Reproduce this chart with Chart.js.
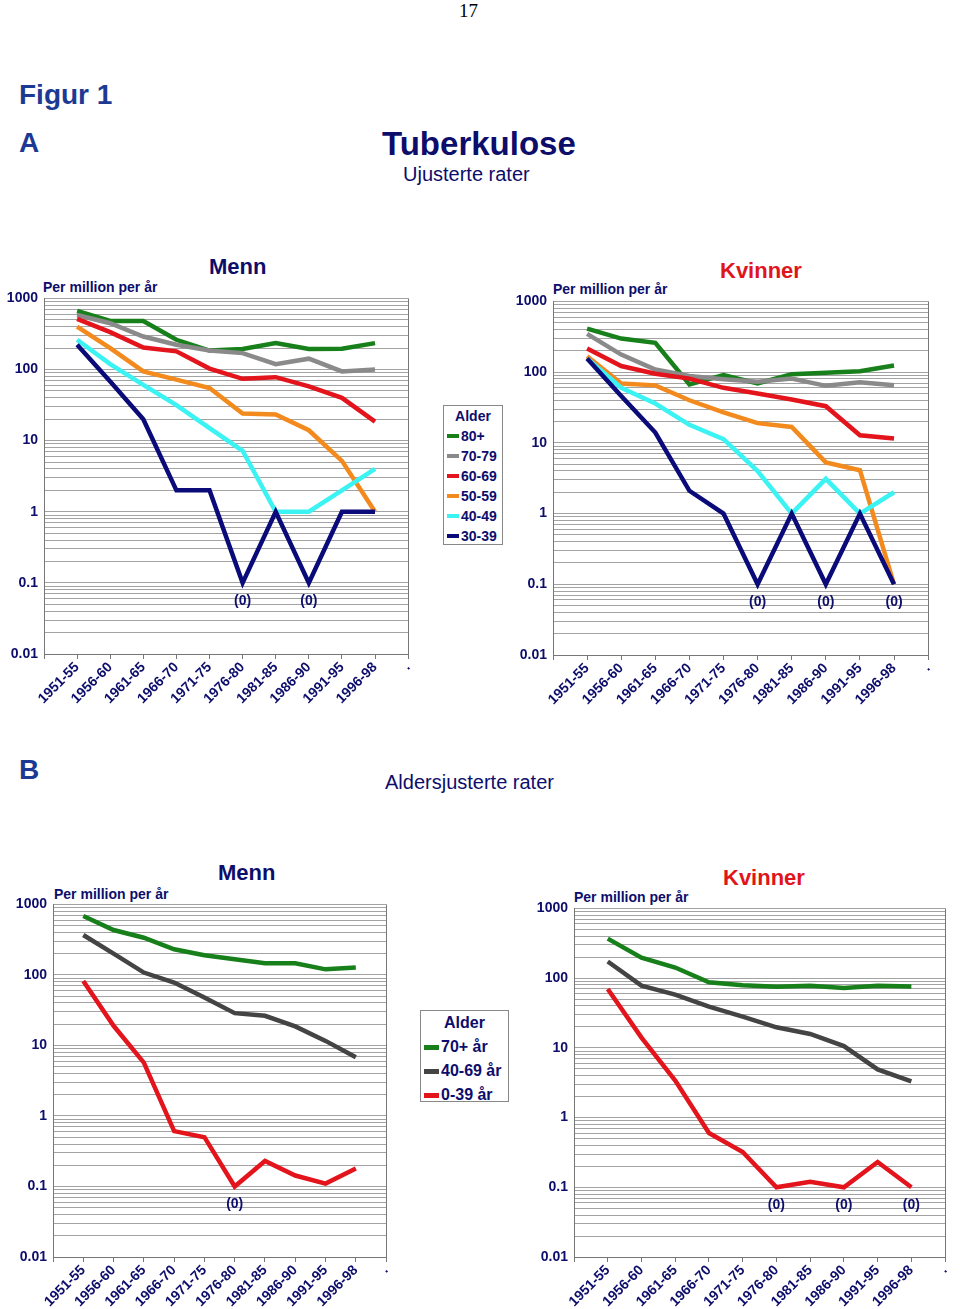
<!DOCTYPE html>
<html>
<head>
<meta charset="utf-8">
<script src="https://cdn.jsdelivr.net/npm/chart.js@4"></script>
<style>
  body { margin: 0; background: #fff; font-family: "Liberation Sans", Arial, sans-serif; }
  #page { position: relative; width: 960px; height: 1309px; overflow: hidden; }
  .t { position: absolute; white-space: nowrap; color: #0d0d6b; }
  .b { font-weight: bold; }
  canvas { position: absolute; }
  .legend { position: absolute; border: 1px solid #888; background: #fff; color: #0d0d6b; font-weight: bold; }
  .legend .hd { text-align: center; }
  .legend .it { display: flex; align-items: center; white-space: nowrap; }
  .legend .sw { display: inline-block; margin-right: 2px; }
</style>
</head>
<body>
<div id="page">
  <div class="t" style="left:459px;top:0px;font-family:'Liberation Serif',serif;font-size:19px;color:#000;">17</div>
  <div class="t b" style="left:19px;top:79px;font-size:28px;color:#1c3a94;">Figur 1</div>
  <div class="t b" style="left:19px;top:127px;font-size:28px;color:#1c3a94;">A</div>
  <div class="t b" style="left:382px;top:125px;font-size:33px;">Tuberkulose</div>
  <div class="t" style="left:403px;top:163px;font-size:20px;">Ujusterte rater</div>
  <div class="t b" style="left:19px;top:754px;font-size:28px;color:#1c3a94;">B</div>
  <div class="t" style="left:385px;top:771px;font-size:20px;">Aldersjusterte rater</div>

  <div class="t b" style="left:209px;top:254px;font-size:22px;">Menn</div>
  <div class="t b" style="left:43px;top:279px;font-size:14px;">Per million per år</div>
  <div class="t b" style="left:720px;top:258px;font-size:22px;color:#e0141a;">Kvinner</div>
  <div class="t b" style="left:553px;top:281px;font-size:14px;">Per million per år</div>

  <div class="t b" style="left:218px;top:860px;font-size:22px;">Menn</div>
  <div class="t b" style="left:54px;top:886px;font-size:14px;">Per million per år</div>
  <div class="t b" style="left:723px;top:865px;font-size:22px;color:#e0141a;">Kvinner</div>
  <div class="t b" style="left:574px;top:889px;font-size:14px;">Per million per år</div>

  <canvas id="aMenn" width="420" height="426" style="left:0px;top:284px;"></canvas>
  <canvas id="aKv" width="431" height="424" style="left:509px;top:287px;"></canvas>
  <canvas id="bMenn" width="389" height="419" style="left:9px;top:890px;"></canvas>
  <canvas id="bKv" width="427" height="415" style="left:530px;top:894px;"></canvas>

  <div id="legA" class="legend" style="left:443px;top:405px;width:58px;height:138px;font-size:14px;"></div>
  <div id="legB" class="legend" style="left:420px;top:1010px;width:87px;height:90px;font-size:16px;"></div>
</div>

<script>
var periods = ['1951-55', '1956-60', '1961-65', '1966-70', '1971-75', '1976-80', '1981-85', '1986-90', '1991-95', '1996-98'];
var yTicks = [0.01, 0.1, 1, 10, 100, 1000];

// A: ujusterte rater, menn
var aMenn80 = [665, 482, 482, 262, 185, 194, 235, 194, 196, 235];
var aMenn70 = [585, 447, 291, 223, 185, 170, 119, 142, 94, 100];
var aMenn60 = [514, 335, 204, 180, 103, 74, 78, 58, 40, 18.5];
var aMenn50 = [402, 200, 94, 72, 55, 24, 23.4, 14, 5.2, 1];
var aMenn40 = [262, 119, 61, 31.6, 15, 7.2, 1, 1, 2, 4];
var aMenn30 = [223, 68, 20, 2, 2, 0.1, 1, 0.1, 1, 1];
var aMennZero = ['1976-80', '1986-90'];

// A: ujusterte rater, kvinner
var aKv80 = [412, 298, 259, 67, 91, 69, 93, 98, 103, 124];
var aKv70 = [347, 177, 109, 88, 79, 73, 81, 64, 72, 65];
var aKv60 = [215, 122, 95, 81, 60, 50, 41, 33, 12.8, 11.5];
var aKv50 = [168, 69, 65, 40, 27, 19, 16.8, 5.3, 4.1, 0.1];
var aKv40 = [156, 60, 36, 18, 11.3, 4, 1, 3.1, 1, 2];
var aKv30 = [156, 46, 14, 2.1, 1, 0.1, 1, 0.1, 1, 0.1];
var aKvZero = ['1976-80', '1986-90', '1996-98'];

// B: aldersjusterte rater
var bMenn70 = [684, 433, 337, 231, 190, 167, 146, 146, 120, 127];
var bMenn40 = [368, 200, 108, 78, 48, 28.7, 26.3, 18.6, 11.6, 6.8];
var bMenn0 = [82, 19, 5.7, 0.61, 0.5, 0.1, 0.23, 0.143, 0.11, 0.18];
var bMennZero = ['1976-80'];

var bKv70 = [369, 197, 142, 87, 79, 75, 78, 72, 78, 76];
var bKv40 = [173, 78, 58, 39, 28, 19.7, 15.8, 10.6, 4.9, 3.3];
var bKv0 = [70, 14, 3.4, 0.6, 0.32, 0.1, 0.12, 0.1, 0.23, 0.1];
var bKvZero = ['1976-80', '1986-90', '1996-98'];

var groupsA = ['80+', '70-79', '60-69', '50-59', '40-49', '30-39'];
var colorsA = ['#17801a', '#8a8a8a', '#e3141b', '#f28a1e', '#3cf3f3', '#0a0a78'];
var groupsB = ['70+ år', '40-69 år', '0-39 år'];
var colorsB = ['#17801a', '#444444', '#e3141b'];

var navy = '#0d0d6b';
var font = '"Liberation Sans", Arial, sans-serif';

// x labels: empty slot at left edge, "." at right edge
var xLabels = [''].concat(periods, ['.']);

// gridlines at 1..9 x each decade
var gridVals = [];
yTicks.forEach(function(d, i) {
  if (i === yTicks.length - 1) { gridVals.push(d); return; }
  for (var m = 1; m <= 9; m++) gridVals.push(parseFloat((m * d).toPrecision(3)));
});

function pad(arr) { return [null].concat(arr, [null]); }

var zeroPlugin = {
  id: 'zeros',
  afterDraw: function(chart, args, opts) {
    var ctx = chart.ctx, a = chart.chartArea;
    ctx.save();
    ctx.strokeStyle = '#777';
    ctx.lineWidth = 1;
    ctx.beginPath();
    ctx.moveTo(Math.round(a.right) + 0.5, a.top);
    ctx.lineTo(Math.round(a.right) + 0.5, a.bottom);
    ctx.stroke();
    ctx.fillStyle = navy;
    ctx.font = 'bold 14px ' + font;
    ctx.textAlign = 'center';
    ctx.textBaseline = 'middle';
    (opts.labels || []).forEach(function(p) {
      var x = chart.scales.x.getPixelForValue(xLabels.indexOf(p));
      var y = chart.scales.y.getPixelForValue(0.1) + 18;
      ctx.fillText('(0)', x, y);
    });
    ctx.restore();
  }
};

function makeChart(id, series, groups, colors, zeros, xh) {
  new Chart(document.getElementById(id), {
    type: 'line',
    data: {
      labels: xLabels,
      datasets: series.map(function(s, i) {
        return {
          label: groups[i],
          data: pad(s),
          borderColor: colors[i],
          backgroundColor: colors[i],
          borderWidth: 4.5,
          pointRadius: 0,
          tension: 0
        };
      }).reverse()
    },
    plugins: [zeroPlugin],
    options: {
      responsive: false,
      animation: false,
      layout: { padding: { top: 0, right: 7, left: 0, bottom: 0 } },
      plugins: {
        legend: { display: false },
        tooltip: { enabled: false },
        zeros: { labels: zeros }
      },
      scales: {
        x: {
          type: 'category',
          offset: false,
          afterFit: function(s) { s.height = xh; },
          grid: { drawOnChartArea: false, drawTicks: true, tickLength: 5, color: '#777' },
          border: { display: true, color: '#777' },
          ticks: {
            autoSkip: false, minRotation: 45, maxRotation: 45, padding: 0,
            color: navy, font: { family: font, size: 14, weight: 'bold' }
          }
        },
        y: {
          type: 'logarithmic',
          min: 0.01,
          max: 1000,
          afterFit: function(s) { s.width = 44; },
          afterBuildTicks: function(s) {
            s.ticks = gridVals.map(function(v) { return { value: v }; });
          },
          grid: { drawTicks: false, color: '#a3a3a3', lineWidth: 1 },
          border: { display: true, color: '#777' },
          ticks: {
            autoSkip: false, padding: 6,
            color: navy, font: { family: font, size: 14, weight: 'bold' },
            callback: function(v) {
              for (var i = 0; i < yTicks.length; i++) {
                if (Math.abs(v - yTicks[i]) < yTicks[i] * 1e-6) return String(yTicks[i]);
              }
              return '';
            }
          }
        }
      }
    }
  });
}

makeChart('aMenn', [aMenn80, aMenn70, aMenn60, aMenn50, aMenn40, aMenn30], groupsA, colorsA, aMennZero, 56);
makeChart('aKv', [aKv80, aKv70, aKv60, aKv50, aKv40, aKv30], groupsA, colorsA, aKvZero, 56);
makeChart('bMenn', [bMenn70, bMenn40, bMenn0], groupsB, colorsB, bMennZero, 52);
makeChart('bKv', [bKv70, bKv40, bKv0], groupsB, colorsB, bKvZero, 52);

function buildLegend(id, groups, colors, rowH, swW, swH) {
  var el = document.getElementById(id);
  var html = '<div class="hd" style="height:' + rowH + 'px;line-height:' + rowH + 'px;">Alder</div>';
  groups.forEach(function(g, i) {
    html += '<div class="it" style="height:' + rowH + 'px;padding-left:3px;">' +
      '<span class="sw" style="width:' + swW + 'px;height:' + swH + 'px;background:' + colors[i] + ';"></span>' + g + '</div>';
  });
  el.innerHTML = html;
}
buildLegend('legA', groupsA, colorsA, 20, 12, 4);
buildLegend('legB', groupsB, colorsB, 24, 15, 5);
</script>
</body>
</html>
